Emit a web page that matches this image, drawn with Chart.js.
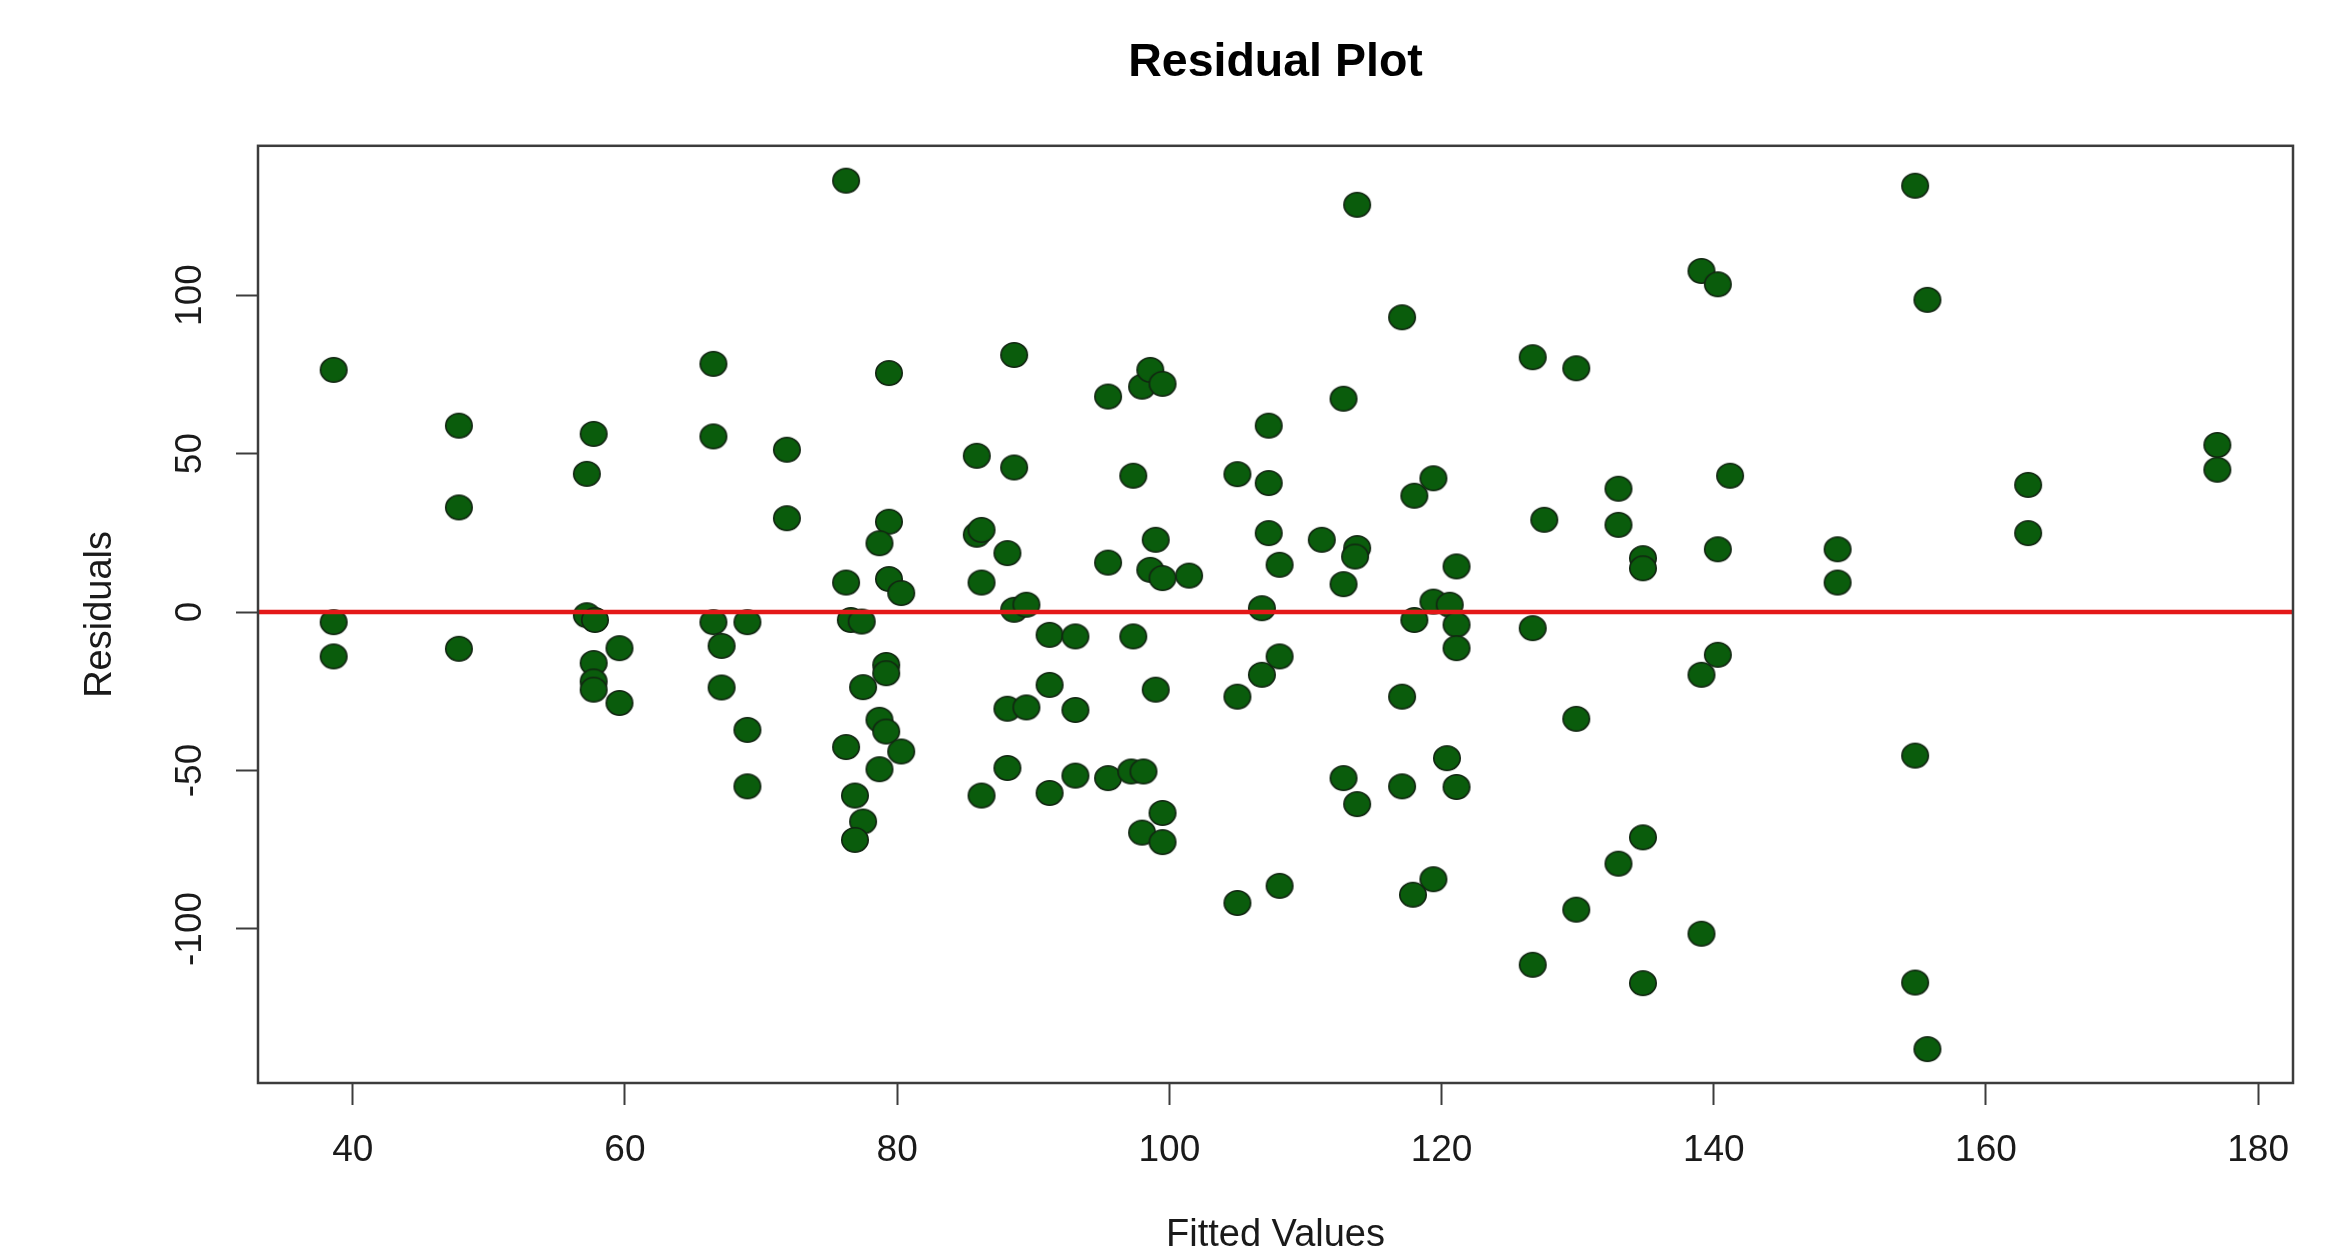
<!DOCTYPE html>
<html>
<head>
<meta charset="utf-8">
<script src="https://cdn.jsdelivr.net/npm/chart.js@4/dist/chart.umd.min.js"></script>
<style>
  html, body { margin: 0; padding: 0; background: #ffffff; }
  #wrap { width: 2350px; height: 1253px; }
</style>
</head>
<body>
<div id="wrap"><canvas id="c" width="2350" height="1253"></canvas></div>
<script>
// ---- data ----
const fittedValues = [
  38.6, 38.6, 38.6,
  47.8, 47.8, 47.8,
  57.7, 57.2, 57.2, 57.8, 57.7, 57.7, 57.7, 59.6, 59.6,
  66.5, 66.5, 66.5, 67.1, 67.1, 69.0, 69.0, 69.0,
  71.9, 71.9,
  76.25, 76.25, 76.6, 77.4, 76.25, 76.9, 77.5, 76.9, 77.5,
  79.4, 79.4, 78.7, 79.4, 80.3, 79.2, 79.2, 78.7, 79.2, 80.3, 78.7,
  85.85, 85.85, 86.2, 86.2, 86.2, 88.6, 88.6, 88.1, 88.6, 89.5, 88.1, 89.5, 88.1,
  91.2, 91.2, 91.2, 93.1, 93.1, 93.1,
  95.5, 95.5, 95.5, 97.35, 97.35, 97.2, 98.1, 98.0, 98.6, 99.5, 99.0, 98.6, 99.5, 99.0, 99.5, 98.0, 99.5, 101.45,
  105.0, 105.0, 105.0, 106.8, 106.8, 107.3, 107.3, 107.3, 108.1, 108.1, 108.1,
  111.2, 112.8, 112.8, 112.8, 113.8, 113.8, 113.65, 113.8,
  117.1, 117.1, 117.1, 118.0, 119.4, 118.0, 119.4, 120.6, 121.1, 121.1, 121.1, 120.4, 121.1, 119.4, 117.9,
  126.7, 126.7, 126.7, 127.55, 129.9, 129.9, 129.9,
  133.0, 133.0, 133.0, 134.8, 134.8, 134.8, 134.8,
  139.1, 140.3, 141.2, 140.3, 139.1, 140.3, 139.1,
  149.1, 149.1,
  154.8, 155.7, 154.8, 154.8, 155.7,
  163.1, 163.1,
  177.0, 177.0
];
const residuals = [
  76.4, -3.2, -14.0,
  58.8, 33.0, -11.6,
  56.2, 43.6, -1.0, -2.5, -16.1, -21.9, -24.5, -11.4, -28.7,
  78.3, 55.4, -3.2, -10.7, -23.8, -3.2, -37.2, -55.0,
  51.2, 29.6,
  136.1, 9.3, -2.5, -3.0, -42.6, -57.9, -66.1, -71.9, -23.7,
  75.4, 28.5, 21.7, 10.4, 6.0, -16.7, -19.3, -34.0, -37.7, -44.0, -49.6,
  49.3, 24.4, 25.9, 9.3, -57.9, 81.1, 45.6, 18.6, 0.7, 2.3, -30.5, -30.1, -49.2,
  -7.2, -23.0, -57.1, -7.7, -30.9, -51.6,
  68.0, 15.6, -52.4, 43.0, -7.7, -50.3, -50.3, 71.1, 76.4, 72.0, 22.8, 13.3, 10.7, -24.5, -63.4, -69.6, -72.6, 11.5,
  43.5, -26.7, -91.8, 1.2, -19.8, 58.8, 40.7, 24.9, 14.9, -14.0, -86.4,
  22.8, 67.3, 8.8, -52.4, 128.5, 20.2, 17.5, -60.6,
  93.0, -26.7, -55.0, 36.7, 42.2, -2.5, 3.3, 2.3, -4.0, -11.4, 14.4, -46.1, -55.2, -84.3, -89.2,
  80.4, -5.1, -111.3, 29.1, 76.9, -33.7, -93.9,
  38.9, 27.5, -79.4, 17.0, 13.8, -71.1, -117.1,
  107.6, 103.4, 43.0, 19.8, -19.8, -13.5, -101.5,
  19.8, 9.3,
  134.5, 98.5, -45.3, -116.9, -137.9,
  40.1, 24.9,
  52.7, 44.9
];
const xTicks = [40, 60, 80, 100, 120, 140, 160, 180];
const yTicks = [-100, -50, 0, 50, 100];
const xLimits = [33.04, 182.56];
const yLimits = [-148.6, 147.1];
const referenceLevel = 0;

// ---- styling ----
const FONT = '"Liberation Sans", Arial, Helvetica, sans-serif';
const AXIS_COLOR = '#3c3c3c';
const TEXT_COLOR = '#1a1a1a';

function makeDot() {
  const cv = document.createElement('canvas');
  cv.width = 30; cv.height = 28;
  const g = cv.getContext('2d');
  g.beginPath();
  g.ellipse(15, 14, 13.2, 12.2, 0, 0, Math.PI * 2);
  g.fillStyle = 'rgb(10,92,12)';
  g.fill();
  g.lineWidth = 1.6;
  g.strokeStyle = 'rgb(18,38,18)';
  g.stroke();
  return cv;
}
const dot = makeDot();

const points = fittedValues.map((x, i) => ({ x: x, y: residuals[i] }));

const frameAndLabels = {
  id: 'frameAndLabels',
  afterDraw(chart) {
    const { ctx, chartArea } = chart;
    ctx.save();
    ctx.strokeStyle = AXIS_COLOR;
    ctx.lineWidth = 2.5;
    ctx.strokeRect(chartArea.left, chartArea.top,
                   chartArea.right - chartArea.left, chartArea.bottom - chartArea.top);
    const ys = chart.scales.y;
    ctx.fillStyle = TEXT_COLOR;
    ctx.font = '37px ' + FONT;
    ctx.textAlign = 'center';
    ctx.textBaseline = 'middle';
    ys.ticks.forEach(t => {
      const py = ys.getPixelForValue(t.value);
      ctx.save();
      ctx.translate(ys.right - 67, py);
      ctx.rotate(-Math.PI / 2);
      ctx.fillText(String(t.value), 0, 0);
      ctx.restore();
    });
    ctx.restore();
  }
};

new Chart(document.getElementById('c'), {
  type: 'scatter',
  data: {
    datasets: [
      {
        type: 'line',
        label: 'zero',
        data: [{ x: xLimits[0], y: referenceLevel }, { x: xLimits[1], y: referenceLevel }],
        borderColor: 'rgb(228,24,24)',
        borderWidth: 4.5,
        pointRadius: 0,
        fill: false,
        order: 0
      },
      {
        label: 'Residuals',
        data: points,
        pointStyle: dot,
        pointRadius: 13,
        pointHoverRadius: 13,
        order: 1
      }
    ]
  },
  options: {
    responsive: false,
    animation: false,
    events: [],
    layout: { padding: { left: 0, right: 57, top: 0, bottom: 0 } },
    plugins: {
      legend: { display: false },
      tooltip: { enabled: false },
      title: {
        display: true,
        fullSize: false,
        text: 'Residual Plot',
        color: '#000',
        font: { family: FONT, size: 46.5, weight: 'bold', lineHeight: 1.2 },
        padding: { top: 35, bottom: 55 }
      }
    },
    scales: {
      x: {
        type: 'linear',
        position: 'bottom',
        min: xLimits[0],
        max: xLimits[1],
        afterBuildTicks: s => { s.ticks = xTicks.map(v => ({ value: v })); },
        afterFit: s => { s.height = 170; },
        border: { display: false },
        grid: {
          drawOnChartArea: false,
          drawTicks: true,
          tickLength: 22,
          tickColor: AXIS_COLOR,
          tickWidth: 2
        },
        ticks: {
          color: TEXT_COLOR,
          font: { family: FONT, size: 37 },
          padding: 24,
          maxRotation: 0,
          minRotation: 0
        },
        title: {
          display: true,
          text: 'Fitted Values',
          color: TEXT_COLOR,
          font: { family: FONT, size: 38, lineHeight: 0.8 },
          padding: { top: 0, bottom: 2 }
        }
      },
      y: {
        type: 'linear',
        position: 'left',
        min: yLimits[0],
        max: yLimits[1],
        afterBuildTicks: s => { s.ticks = yTicks.map(v => ({ value: v })); },
        afterFit: s => { s.width = 258; },
        border: { display: false },
        grid: {
          drawOnChartArea: false,
          drawTicks: true,
          tickLength: 22,
          tickColor: AXIS_COLOR,
          tickWidth: 2
        },
        ticks: {
          color: 'rgba(0,0,0,0)',
          font: { family: FONT, size: 37 },
          padding: 10
        },
        title: {
          display: true,
          text: 'Residuals',
          color: TEXT_COLOR,
          font: { family: FONT, size: 38, lineHeight: 1 },
          padding: { top: 82, bottom: 0 }
        }
      }
    }
  },
  plugins: [frameAndLabels]
});
</script>
</body>
</html>
